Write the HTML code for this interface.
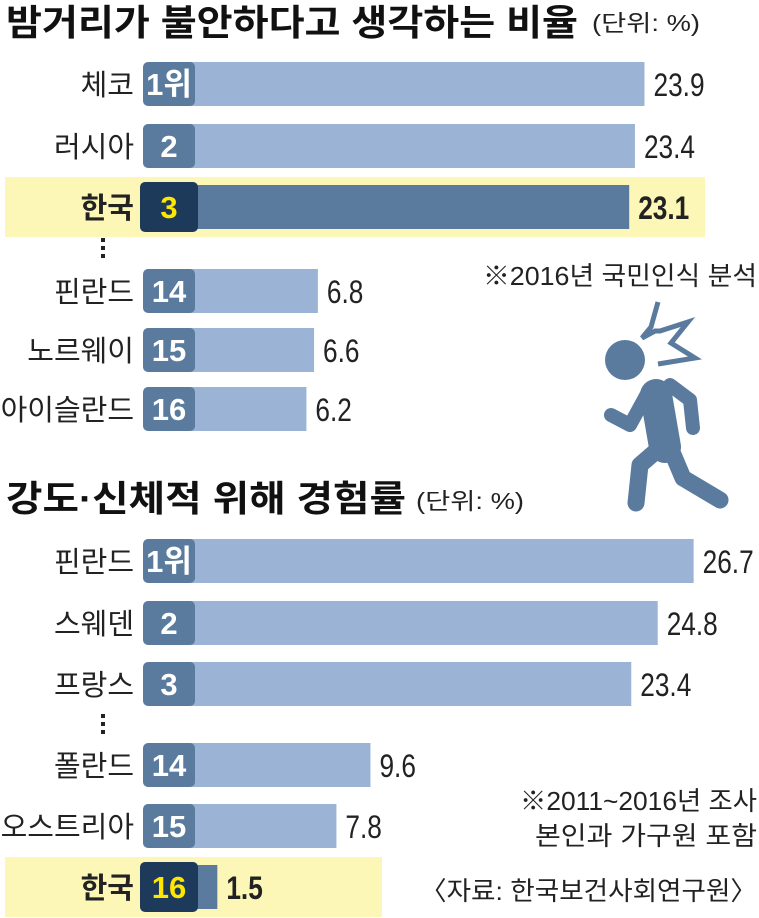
<!DOCTYPE html>
<html><head><meta charset="utf-8">
<style>
html,body{margin:0;padding:0;background:#fff;}
svg{display:block;}
text{font-family:"Liberation Sans","Noto Sans CJK KR",sans-serif;}
.lab{font-size:29px;fill:#222;}
.num{font-size:32px;fill:#222;}
.rank{font-size:31px;font-weight:bold;fill:#fff;}
.title{font-size:36px;font-weight:bold;fill:#111;}
.unit{font-size:23px;fill:#222;}
.note{font-size:26px;fill:#222;}
</style></head>
<body>
<svg id="chart" width="759" height="918" viewBox="0 0 759 918">
  <rect width="759" height="918" fill="#fff"/>
  <text class="title" x="6" y="35" textLength="572" lengthAdjust="spacingAndGlyphs">밤거리가 불안하다고 생각하는 비율</text>
  <text class="unit" x="592" y="31" textLength="108" lengthAdjust="spacingAndGlyphs">(단위: %)</text>
  <text class="title" x="6" y="511" textLength="400" lengthAdjust="spacingAndGlyphs">강도·신체적 위해 경험률</text>
  <text class="unit" x="416" y="509" textLength="108" lengthAdjust="spacingAndGlyphs">(단위: %)</text>
  <text class="note" x="483" y="285" textLength="274" lengthAdjust="spacingAndGlyphs">※2016년 국민인식 분석</text>
  <text class="note" x="757" y="810" text-anchor="end" textLength="237" lengthAdjust="spacingAndGlyphs">※2011~2016년 조사</text>
  <text class="note" x="757" y="845" text-anchor="end" textLength="222" lengthAdjust="spacingAndGlyphs">본인과 가구원 포함</text>
  <text class="note" x="757" y="900" text-anchor="end" textLength="337" lengthAdjust="spacingAndGlyphs">〈자료: 한국보건사회연구원〉</text>
  <g id="g1"></g>
  <g id="g2"></g>
  <g fill="#222"><rect x="101" y="238" width="4" height="4"/><rect x="101" y="246" width="4" height="4"/><rect x="101" y="254" width="4" height="4"/></g>
  <g fill="#222"><rect x="101" y="714" width="4" height="4"/><rect x="101" y="722" width="4" height="4"/><rect x="101" y="730" width="4" height="4"/></g>
  <g fill="none" stroke="#5a7b9e" stroke-linecap="round" stroke-linejoin="round">
    <circle cx="625" cy="360" r="20" fill="#5a7b9e" stroke="none"/>
    <polyline points="658,302 651,327 642,338 655,331 660,331 688,322 671,343 695,358 658,364" stroke-width="5" stroke-linecap="butt" stroke-linejoin="miter"/>
    <line x1="656" y1="395" x2="665" y2="447" stroke-width="32"/>
    <polyline points="648,392 630,425 611,415" stroke-width="14"/>
    <polyline points="670,385 690,400 693,428" stroke-width="14"/>
    <polyline points="655,452 640,465 636,503" stroke-width="17"/>
    <polyline points="672,452 683,478 720,500" stroke-width="17"/>
  </g>
</svg>
<script>
const cat1 = ["체코","러시아","한국","핀란드","노르웨이","아이슬란드"];
const rank1 = ["1위","2","3","14","15","16"];
const val1 = [23.9,23.4,23.1,6.8,6.6,6.2];
const cat2 = ["핀란드","스웨덴","프랑스","폴란드","오스트리아","한국"];
const rank2 = ["1위","2","3","14","15","16"];
const val2 = [26.7,24.8,23.4,9.6,7.8,1.5];

const NS="http://www.w3.org/2000/svg";
function mk(tag, attrs, parent){const e=document.createElementNS(NS,tag);for(const k in attrs)e.setAttribute(k,attrs[k]);parent.appendChild(e);return e;}

function drawChart(gId, cats, ranks, vals, rowY, x0, scale, hiIdx, bandW, prefix){
  const g=document.getElementById(gId);
  const xs=v=>x0+v*scale;
  cats.forEach((c,i)=>{
    const cy=rowY[i];
    const hi=i===hiIdx;
    if(hi){
      const band=mk('rect',{x:5,y:cy-30,width:bandW,height:60,fill:'#fcf7b6'},g);
      
      
    }
    const bar=mk('rect',{x:150,y:cy-22,width:Math.max(0,xs(vals[i])-150),height:44,fill:hi?'#5a7b9e':'#9bb3d4'},g);
    
    
    const badge=mk('rect',{x:hi?140:143,y:hi?cy-25:cy-22,width:hi?58:52,height:hi?50:44,rx:5,fill:hi?'#1e3a5a':'#5a7b9e'},g);
    
    
    const rt=mk('text',{x:169,y:cy+11,'text-anchor':'middle',class:'rank'},g);
    if(hi) rt.style.fill='#ffe600';
    rt.textContent=ranks[i];
    
    
    const lt=mk('text',{x:134,y:cy+11,'text-anchor':'end',class:'lab'},g);
    if(hi){lt.style.fontWeight='bold';}
    lt.textContent=c;
    
    
    const vt=mk('text',{transform:'translate('+(xs(vals[i])+9)+','+(cy+12)+') scale(0.82,1)',class:'num'},g);
    if(hi){vt.style.fontWeight='bold';}
    vt.textContent=vals[i].toFixed(1);
    
    
  });
}
drawChart('g1',cat1,rank1,val1,[84,146,207,291,350,409],188,19.1,2,700,'chart1');
drawChart('g2',cat2,rank2,val2,[561,623,684,765,826,887],189,18.9,5,377,'chart2');
</script>
</body></html>
